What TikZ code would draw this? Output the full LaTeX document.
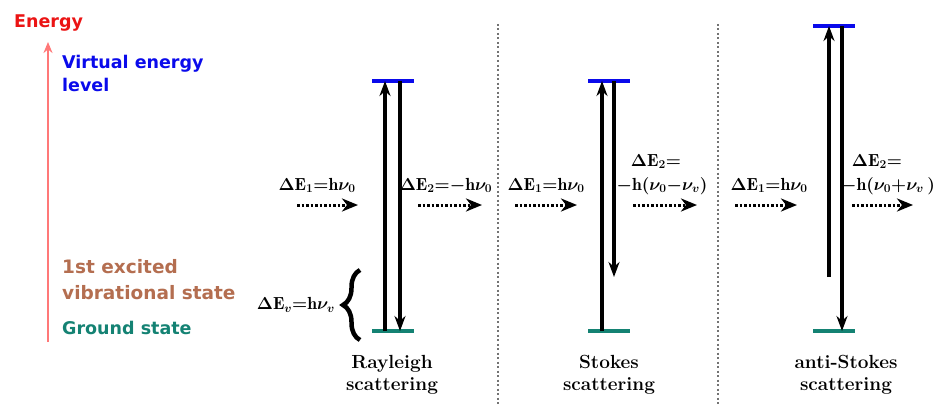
\documentclass[tikz,border=0pt]{standalone}
\usepackage{fontspec}
\newfontfamily\dvs{DejaVu Sans}
\usetikzlibrary{arrows.meta,decorations.pathreplacing}
\definecolor{vblue}{RGB}{10,10,235}
\definecolor{gteal}{RGB}{20,130,115}
\definecolor{ebrown}{RGB}{180,110,80}
\definecolor{ered}{RGB}{235,20,20}
\definecolor{ared}{RGB}{255,120,120}
\tikzset{
  lbl/.style={font=\dvs\bfseries\fontsize{17.5}{20}\selectfont, inner sep=0pt, anchor=base west},
  lblb/.style={font=\dvs\bfseries\fontsize{18.5}{20}\selectfont, inner sep=0pt, anchor=base west, text=ebrown},
  vlev/.style={line width=3.2pt, vblue},
  glev/.style={line width=3.2pt, gteal},
  trans/.style={line width=3.2pt, -{Stealth[length=15pt,width=11pt]}},
  photon/.style={line width=3pt, dash pattern=on 2.5pt off 2pt, -{Stealth[length=16pt,width=13pt,inset=5pt]}},
  eq/.style={font=\fontsize{17.5}{19}\selectfont\boldmath, inner sep=0pt, anchor=base},
  sc/.style={font=\bfseries\fontsize{19}{22}\selectfont, align=center, inner sep=0pt, anchor=north},
  sep/.style={black!55, line width=2pt, dash pattern=on 2pt off 2.5pt}
}
\begin{document}
\begin{tikzpicture}[x=1pt,y=-1pt]
\useasboundingbox (0,0) rectangle (933,404);
% energy axis
\coordinate (eb) at (48,342);
\coordinate (et) at (48,42);
\draw[ared, line width=2.2pt, -{Stealth[length=11pt,width=9pt]}] (eb) -- (et);
\node[lbl, text=ered] (energy) at (14,28) {Energy};
\node[lbl, text=vblue] (virt1) at (62,68) {Virtual energy};
\node[lbl, text=vblue] (virt2) at (62,91) {level};
\node[lblb] (exc1) at (62,273) {1st excited};
\node[lblb] (exc2) at (62,299) {vibrational state};
\node[lbl, text=gteal] (ground) at (62,334) {Ground state};
% separators
\coordinate (s1t) at (498,24); \coordinate (s1b) at (498,404);
\coordinate (s2t) at (718,24); \coordinate (s2b) at (718,404);
\draw[sep] (s1t) -- (s1b);
\draw[sep] (s2t) -- (s2b);
% Rayleigh levels
\coordinate (rvl) at (372,81); \coordinate (rvr) at (414,81);
\coordinate (rgl) at (372,331); \coordinate (rgr) at (414,331);
\draw[vlev] (rvl) -- (rvr);
\draw[glev] (rgl) -- (rgr);
\coordinate (ru0) at (385,331); \coordinate (ru1) at (385,81);
\coordinate (rd0) at (400,81); \coordinate (rd1) at (400,331);
\draw[trans] (ru0) -- (ru1);
\draw[trans] (rd0) -- (rd1);
% Stokes levels
\coordinate (svl) at (588,81); \coordinate (svr) at (630,81);
\coordinate (sgl) at (588,331); \coordinate (sgr) at (630,331);
\draw[vlev] (svl) -- (svr);
\draw[glev] (sgl) -- (sgr);
\coordinate (su0) at (602,331); \coordinate (su1) at (602,81);
\coordinate (sd0) at (614,81); \coordinate (sd1) at (614,277);
\draw[trans] (su0) -- (su1);
\draw[trans] (sd0) -- (sd1);
% anti-Stokes levels
\coordinate (avl) at (813,26); \coordinate (avr) at (855,26);
\coordinate (agl) at (813,331); \coordinate (agr) at (855,331);
\draw[vlev] (avl) -- (avr);
\draw[glev] (agl) -- (agr);
\coordinate (au0) at (829,277); \coordinate (au1) at (829,26);
\coordinate (ad0) at (842,26); \coordinate (ad1) at (842,331);
\draw[trans] (au0) -- (au1);
\draw[trans] (ad0) -- (ad1);
% brace
\coordinate (bb) at (360,340); \coordinate (bt) at (360,270);
\draw[line width=4.5pt, decorate, decoration={brace, amplitude=17pt, aspect=0.5}] (bb) -- (bt);
\node[eq, anchor=east] (dev) at (335,305) {$\Delta\mathrm{E}_v{=}\mathrm{h}\nu_v$};
% photon labels and arrows
\node[eq] (ri) at (317,190) {$\Delta\mathrm{E}_1{=}\mathrm{h}\nu_0$};
\coordinate (ri0) at (297,205); \coordinate (ri1) at (358,205);
\draw[photon] (ri0) -- (ri1);
\node[eq] (rs) at (446,190) {$\Delta\mathrm{E}_2{=}{-}\mathrm{h}\nu_0$};
\coordinate (rs0) at (418,205); \coordinate (rs1) at (482,205);
\draw[photon] (rs0) -- (rs1);
\node[eq] (si) at (546,190) {$\Delta\mathrm{E}_1{=}\mathrm{h}\nu_0$};
\coordinate (si0) at (515,205); \coordinate (si1) at (577,205);
\draw[photon] (si0) -- (si1);
\node[eq] (ss1) at (656,166) {$\Delta\mathrm{E}_2{=}$};
\node[eq] (ss2) at (662,190) {${-}\mathrm{h}(\nu_0{-}\nu_v)$};
\coordinate (ss0) at (633,205); \coordinate (sse) at (697,205);
\draw[photon] (ss0) -- (sse);
\node[eq] (ai) at (769,190) {$\Delta\mathrm{E}_1{=}\mathrm{h}\nu_0$};
\coordinate (ai0) at (735,205); \coordinate (ai1) at (797,205);
\draw[photon] (ai0) -- (ai1);
\node[eq] (as1) at (877,166) {$\Delta\mathrm{E}_2{=}$};
\node[eq] (as2) at (888,190) {${-}\mathrm{h}(\nu_0{+}\nu_v\,)$};
\coordinate (as0) at (852,205); \coordinate (ase) at (913,205);
\draw[photon] (as0) -- (ase);
% titles
\node[sc] (rt) at (392,355) {Rayleigh\\scattering};
\node[sc] (st) at (609,355) {Stokes\\scattering};
\node[sc] (at) at (846,355) {anti-Stokes\\scattering};
\end{tikzpicture}
\end{document}
